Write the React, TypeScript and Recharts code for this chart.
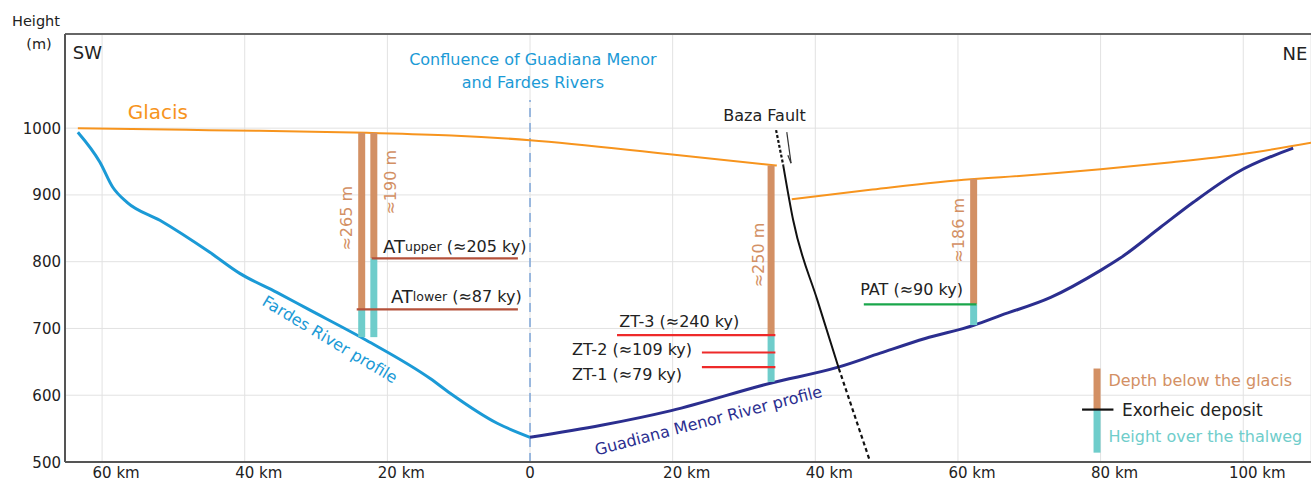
import React from 'react'
import {
  ComposedChart, Line, XAxis, YAxis, CartesianGrid, ReferenceLine, ReferenceDot
} from 'recharts'

const FONT = '"DejaVu Sans", Verdana, sans-serif'

const X_MIN = -65.2
const X_MAX = 109.5
const Y_MIN = 500
const Y_MAX = 1141
const xTicks = [-60, -40, -20, 0, 20, 40, 60, 80, 100]
const yTicks = [500, 600, 700, 800, 900, 1000]

// distance from the confluence (km, SW negative) / height (m)
const glacisSwKm = [-63.4, -45, -22.9, -11, 0, 19.6, 34.6]
const glacisSwM = [1000, 997, 993, 989, 982, 961, 944]
const glacisNeKm = [36.7, 48, 61.8, 66, 80, 90, 99.7, 109.5]
const glacisNeM = [893.5, 908, 923.5, 926.5, 938.5, 949, 961, 978]

const fardesKm = [-63.4, -60.3, -58.5, -56.5, -51.9, -44.9, -40.7, -35.5, -31.3, -22.9, -14, -11.2, -4.6, 0]
const fardesM = [994, 949, 911.5, 889, 862, 814, 782.5, 754, 730, 682, 625, 603, 558, 537]

const guadianaKm = [0, 10, 19.8, 33.7, 43.2, 49.1, 55.4, 62.3, 66, 73, 80, 82.7, 88.4, 93, 99.2, 107]
const guadianaM = [537, 555, 577, 618, 642, 663, 685, 705, 719.5, 746.5, 787, 805, 851.5, 889, 934, 970]

const faultTopKm = [34.5, 35.5]
const faultTopM = [997, 944.5]
const faultKm = [35.5, 36.9, 40.3, 43.3]
const faultM = [944.5, 862, 742, 640]
const faultLowKm = [43.3, 47.7]
const faultLowM = [640, 500]
const faultArrowKm = [36.0, 36.6]
const faultArrowM = [994, 947.5]

const confluenceKm = 0
const confluenceTopM = 1042

// sampled columns: glacis top, exorheic deposit, thalweg
const columnKm = [-23.6, -21.9, 33.8, 62.2]
const columnTopM = [993, 993, 944, 924]
const columnDepositM = [728.5, 805, 690, 736]
const columnThalwegM = [687, 687, 620, 705]
const columnLabels = ['≈265 m', '≈190 m', '≈250 m', '≈186 m']
const columnLabelKm = [-25.7, -19.6, 32.0, 60.1]
const columnLabelM = [865, 919, 810, 847]

// terrace levels
const terraceFromKm = [-22.2, -24.3, 12.2, 24.1, 24.1, 46.8]
const terraceToKm = [-1.7, -1.7, 34.4, 34.4, 34.4, 62.6]
const terraceM = [805, 728.5, 690, 664, 642, 736]
const terraceKind = ['AT', 'AT', 'ZT', 'ZT', 'ZT', 'PAT']

const ORANGE = '#f7941d'
const FARDES = '#1b9ad6'
const GUADIANA = '#2b2e8f'
const BROWN = '#d39064'
const TEAL = '#6fcdcb'
const TXT = '#222'
const terraceColor: Record<string, string> = { AT: '#b4513a', ZT: '#ee2a2a', PAT: '#1aa64b' }

const pts = (xs: number[], ys: number[]) => xs.map((x, i) => ({ x, y: ys[i] }))

const textAt = (key: string, x: number, y: number, render: (cx: number, cy: number) => React.ReactElement) => (
  <ReferenceDot key={key} x={x} y={y} r={0} ifOverflow="visible"
    shape={(p: any) => render(p.cx, p.cy)} />
)

const label = (key: string, x: number, y: number, s: string, size: number, color: string,
  anchor: 'start' | 'middle' | 'end' = 'start', rotate = 0) =>
  textAt(key, x, y, (cx, cy) => (
    <text x={cx} y={cy} fill={color} fontSize={size} fontFamily={FONT} textAnchor={anchor}
      dominantBaseline="central" transform={rotate ? `rotate(${rotate} ${cx} ${cy})` : undefined}>{s}</text>
  ))

const seg = (key: string, x1: number, y1: number, x2: number, y2: number, color: string, w: number, dash?: string) => (
  <ReferenceLine key={key} segment={[{ x: x1, y: y1 }, { x: x2, y: y2 }]} stroke={color}
    strokeWidth={w} strokeDasharray={dash} ifOverflow="visible" />
)

const KmTick = ({ x, y, payload }: any) => {
  const v = Math.abs(payload.value)
  if (v === 0) return <text x={x} y={y + 16} textAnchor="middle" fontSize={15} fontFamily={FONT} fill={TXT}>0</text>
  const num = String(v)
  const half = num.length * 0.636 * 15 / 2
  return (
    <g>
      <text x={x} y={y + 16} textAnchor="middle" fontSize={15} fontFamily={FONT} fill={TXT}>{num}</text>
      <text x={x + half} y={y + 16} textAnchor="start" fontSize={15} fontFamily={FONT} fill={TXT}>{'\u00a0km'}</text>
    </g>
  )
}

const HeightTick = ({ y, payload }: any) => (
  <text x={61} y={y + 5.5} textAnchor="end" fontSize={15} fontFamily={FONT} fill={TXT}>{payload.value}</text>
)

export default function App() {
  const lineProps = { dataKey: 'y', dot: false, isAnimationActive: false, activeDot: false as const, type: 'monotone' as const }
  return (
    <div style={{ position: 'absolute', left: 0, top: 0, width: 1311, height: 481, background: '#fff' }}>
      <svg width={80} height={60} style={{ position: 'absolute', left: 0, top: 0 }}>
        <text x={36} y={26} textAnchor="middle" fontSize={14.5} fontFamily={FONT} fill={TXT}>Height</text>
        <text x={39} y={49} textAnchor="middle" fontSize={14.5} fontFamily={FONT} fill={TXT}>(m)</text>
      </svg>
      <ComposedChart width={1311} height={481} margin={{ top: 34, right: 0, bottom: 0, left: 0 }}>
        <CartesianGrid stroke="#e2e2e2" strokeWidth={1} />
        <XAxis dataKey="x" type="number" domain={[X_MIN, X_MAX]} ticks={xTicks} height={19}
          allowDataOverflow tickLine={false} tickSize={0} tickMargin={0} tick={<KmTick />}
          axisLine={{ stroke: '#555', strokeWidth: 2 }} />
        <YAxis type="number" domain={[Y_MIN, Y_MAX]} ticks={yTicks} width={65} allowDataOverflow
          tickLine={false} tickSize={0} tick={<HeightTick />}
          axisLine={{ stroke: '#555', strokeWidth: 2 }} />
        {seg('frame', X_MIN, Y_MAX, X_MAX, Y_MAX, '#666', 2)}

        {seg('confluence', confluenceKm, Y_MIN, confluenceKm, confluenceTopM, '#7ea6d8', 1.5, '9 6')}

        <Line data={pts(glacisSwKm, glacisSwM)} {...lineProps} stroke={ORANGE} strokeWidth={2} />
        <Line data={pts(glacisNeKm, glacisNeM)} {...lineProps} stroke={ORANGE} strokeWidth={2} />
        <Line data={pts(fardesKm, fardesM)} {...lineProps} stroke={FARDES} strokeWidth={3} />
        <Line data={pts(guadianaKm, guadianaM)} {...lineProps} stroke={GUADIANA} strokeWidth={3} />

        {columnKm.map((x, i) => seg(`d${i}`, x, columnTopM[i], x, columnDepositM[i], BROWN, 7))}
        {columnKm.map((x, i) => seg(`t${i}`, x, columnDepositM[i], x, columnThalwegM[i], TEAL, 7))}
        {terraceM.map((y, i) => seg(`l${i}`, terraceFromKm[i], y, terraceToKm[i], y, terraceColor[terraceKind[i]], 2.2))}

        <Line data={pts(faultTopKm, faultTopM)} {...lineProps} type="linear" stroke="#111" strokeWidth={2.2} strokeDasharray="3 2" />
        <Line data={pts(faultKm, faultM)} {...lineProps} stroke="#111" strokeWidth={2} />
        <Line data={pts(faultLowKm, faultLowM)} {...lineProps} type="linear" stroke="#111" strokeWidth={2.2} strokeDasharray="4 3" />
        {seg('arrow', faultArrowKm[0], faultArrowM[0], faultArrowKm[1], faultArrowM[1], '#333', 1.2)}
        {seg('arrowhead', faultArrowKm[1], faultArrowM[1], faultArrowKm[1] - 0.45, faultArrowM[1] + 12, '#333', 1.2)}

        {/* legend */}
        {seg('lgB', 79.5, 640, 79.5, 578.5, BROWN, 7)}
        {seg('lgT', 79.5, 578.5, 79.5, 514, TEAL, 7)}
        {seg('lgK', 77.4, 578.5, 81.8, 578.5, '#111', 2.2)}
        {label('lgt1', 81.1, 622, 'Depth below the glacis', 16, BROWN)}
        {label('lgt2', 83.0, 578.5, 'Exorheic deposit', 17, TXT)}
        {label('lgt3', 81.1, 538, 'Height over the thalweg', 16, TEAL)}

        {label('sw', -64.1, 1114, 'SW', 18, TXT)}
        {label('ne', 109.0, 1112.5, 'NE', 18, TXT, 'end')}
        {label('glacis', -56.4, 1024, 'Glacis', 20, ORANGE)}
        {label('conf1', 0.4, 1103.5, 'Confluence of Guadiana Menor', 16, FARDES, 'middle')}
        {label('conf2', 0.4, 1069, 'and Fardes Rivers', 16, FARDES, 'middle')}
        {label('baza', 27.1, 1019.5, 'Baza Fault', 16, TXT)}
        {columnKm.map((_, i) => label(`cl${i}`, columnLabelKm[i], columnLabelM[i], columnLabels[i], 16, BROWN, 'middle', -90))}

        {textAt('atu', -20.6, 823, (cx, cy) => (
          <text x={cx} y={cy} dominantBaseline="central" fontFamily={FONT} fill={TXT} fontSize={16}>
            <tspan fontSize={18}>AT</tspan><tspan fontSize={12.5}>upper</tspan><tspan> (≈205 ky)</tspan>
          </text>
        ))}
        {textAt('atl', -19.5, 748, (cx, cy) => (
          <text x={cx} y={cy} dominantBaseline="central" fontFamily={FONT} fill={TXT} fontSize={16}>
            <tspan fontSize={18}>AT</tspan><tspan fontSize={12.5}>lower</tspan><tspan> (≈87 ky)</tspan>
          </text>
        ))}
        {label('zt3', 12.5, 710.5, 'ZT-3 (≈240 ky)', 16, TXT)}
        {label('zt2', 5.9, 668.5, 'ZT-2 (≈109 ky)', 16, TXT)}
        {label('zt1', 5.9, 631, 'ZT-1 (≈79 ky)', 16, TXT)}
        {label('pat', 46.3, 758.5, 'PAT (≈90 ky)', 16, TXT)}

        {label('fardes', -28.05, 683.5, 'Fardes River profile', 16, FARDES, 'middle', 31)}
        {label('guadiana', 25.0, 562, 'Guadiana Menor River profile', 16, GUADIANA, 'middle', -14.6)}
      </ComposedChart>
    </div>
  )
}
